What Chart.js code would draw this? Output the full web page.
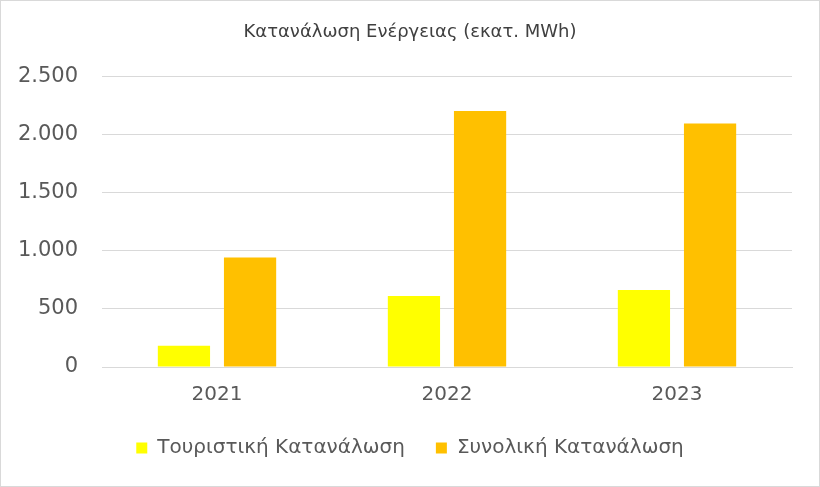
<!DOCTYPE html>
<html>
<head>
<meta charset="utf-8">
<script src="https://cdn.jsdelivr.net/npm/chart.js@4.4.1/dist/chart.umd.min.js"></script>
<style>
  html, body { margin: 0; padding: 0; background: #fff; }
  #wrap {
    position: relative;
    width: 818px;
    height: 485px;
    border: 1px solid #d9d9d9;
  }
</style>
</head>
<body>
<div id="wrap"><canvas id="grafico"></canvas></div>
<script>
const anios = ['2021', '2022', '2023'];
const turistica = [182, 612, 662];
const total = [942, 2203, 2096];
const titulo = 'Κατανάλωση Ενέργειας (εκατ. MWh)';
const nombresSeries = ['Τουριστική Κατανάλωση', 'Συνολική Κατανάλωση'];

function formatoGriego(v) {
    return String(v).replace(/\B(?=(\d{3})+(?!\d))/g, '.');
}

const fuente = "'DejaVu Sans', sans-serif";

const ctx = document.getElementById('grafico').getContext('2d');
new Chart(ctx, {
    type: 'bar',
    data: {
        labels: anios,
        datasets: [
            {
                label: nombresSeries[0],
                data: turistica,
                backgroundColor: '#FFFF00',
                barPercentage: 0.79,
                categoryPercentage: 0.575
            },
            {
                label: nombresSeries[1],
                data: total,
                backgroundColor: '#FFC000',
                barPercentage: 0.79,
                categoryPercentage: 0.575
            }
        ]
    },
    options: {
        responsive: true,
        maintainAspectRatio: false,
        animation: false,
        layout: { padding: { left: 0, right: 0, top: 14, bottom: 18 } },
        plugins: {
            title: {
                display: true,
                text: titulo,
                color: '#404040',
                font: { family: fuente, size: 18, weight: 'normal' },
                padding: { top: 7, bottom: 33 }
            },
            legend: {
                position: 'bottom',
                labels: {
                    color: '#595959',
                    font: { family: fuente, size: 20 },
                    boxWidth: 11,
                    boxHeight: 11,
                    padding: 31
                }
            },
            tooltip: { enabled: false }
        },
        scales: {
            x: {
                grid: { display: false, drawTicks: false },
                border: { color: '#d9d9d9' },
                afterFit: function(eje) { eje.height = 40; },
                ticks: {
                    color: '#595959',
                    font: { family: fuente, size: 20 },
                    padding: 16
                }
            },
            y: {
                min: 0,
                max: 2500,
                grid: { color: '#d9d9d9', drawTicks: false },
                border: { display: false },
                afterFit: function(eje) { eje.width = 101; },
                ticks: {
                    stepSize: 500,
                    color: '#595959',
                    font: { family: fuente, size: 21 },
                    padding: 24,
                    callback: function(v) { return formatoGriego(v); }
                }
            },
            // margen derecho vacío, para que título y leyenda queden centrados en el lienzo
            margenDerecho: {
                position: 'right',
                grid: { display: false, drawOnChartArea: false },
                border: { display: false },
                ticks: { display: false },
                afterFit: function(eje) { eje.width = 27; }
            }
        }
    }
});
</script>
</body>
</html>
